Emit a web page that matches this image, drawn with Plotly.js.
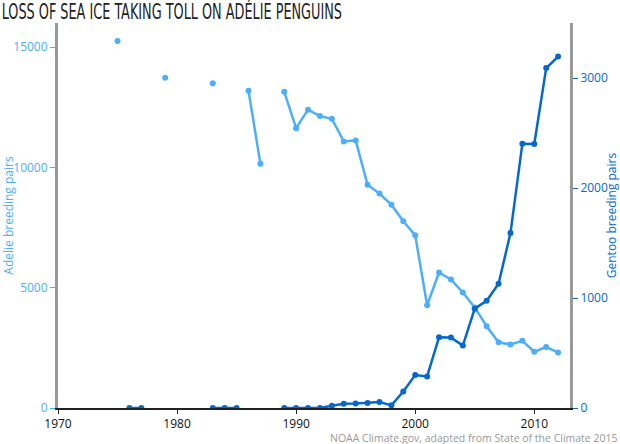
<!DOCTYPE html>
<html>
<head>
<meta charset="utf-8">
<script src="https://cdn.plot.ly/plotly-3.0.1.min.js"></script>
<style>html,body{margin:0;padding:0;background:#fff}#chart{width:620px;height:444px}
.gtitle{font-stretch:condensed;transform:scaleX(0.68);transform-origin:0 0}</style>
</head>
<body>
<div id="chart"></div>
<script>
const years = [1975,1976,1977,1978,1979,1980,1981,1982,1983,1984,1985,1986,1987,1988,1989,1990,1991,1992,1993,1994,1995,1996,1997,1998,1999,2000,2001,2002,2003,2004,2005,2006,2007,2008,2009,2010,2011,2012];
const adelie = [15250,null,null,null,13720,null,null,null,13500,null,null,13180,10150,null,13140,11630,12400,12130,12020,11080,11120,9280,8910,8450,7760,7180,4270,5630,5340,4800,4180,3400,2730,2640,2790,2340,2530,2310];
const gentoo = [null,0,0,null,null,null,null,null,0,0,0,null,null,null,0,0,0,0,20,39,40,45,55,24,150,300,287,643,640,568,903,975,1130,1590,2403,2400,3090,3195];
const xTicks = [1970,1980,1990,2000,2010];
const adelieTicks = [0,5000,10000,15000];
const gentooTicks = [0,1000,2000,3000];

const lightBlue = '#4DAEFC';
const darkBlue = '#0568CC';

const traces = [
  {x: years, y: adelie, name: 'Adelie', mode: 'lines+markers', connectgaps: false,
   line: {color: lightBlue, width: 2.5}, marker: {color: lightBlue, size: 6}, yaxis: 'y'},
  {x: years, y: gentoo, name: 'Gentoo', mode: 'lines+markers', connectgaps: false,
   line: {color: darkBlue, width: 2.5}, marker: {color: darkBlue, size: 6}, yaxis: 'y2'}
];

const tickFont = "'Open Sans', 'DejaVu Sans', sans-serif";
const layout = {
  width: 620, height: 444,
  margin: {l: 58, r: 50, t: 23, b: 36},
  showlegend: false,
  paper_bgcolor: '#fff', plot_bgcolor: '#fff',
  title: {text: 'LOSS OF SEA ICE TAKING TOLL ON ADÉLIE PENGUINS',
    font: {family: "'DejaVu Sans Condensed', 'Liberation Sans Narrow', sans-serif", size: 21, color: '#222'},
    x: 0.004, xanchor: 'left', y: 0.991, yanchor: 'top'},
  xaxis: {range: [1970, 2013], tickvals: xTicks, ticktext: xTicks.map(String),
    showgrid: false, zeroline: false, showline: true, linecolor: '#222', linewidth: 1.5,
    ticks: 'outside', ticklen: 4, tickcolor: '#222',
    tickfont: {family: tickFont, size: 12, color: '#111'}},
  yaxis: {range: [0, 16000], tickvals: adelieTicks, ticktext: adelieTicks.map(String), showgrid: false, zeroline: false,
    showline: true, linecolor: '#999', linewidth: 3, ticks: 'outside', ticklen: 5, tickcolor: lightBlue,
    tickfont: {family: tickFont, size: 12, color: lightBlue},
    title: {text: 'Adelie breeding pairs', font: {family: tickFont, size: 12, color: lightBlue}, standoff: 12}},
  yaxis2: {range: [0, 3500], tickvals: gentooTicks, ticktext: gentooTicks.map(String), overlaying: 'y', side: 'right', showgrid: false, zeroline: false,
    showline: true, linecolor: '#999', linewidth: 3, ticks: 'outside', ticklen: 5, tickcolor: darkBlue,
    tickfont: {family: tickFont, size: 12, color: darkBlue},
    title: {text: 'Gentoo breeding pairs', font: {family: tickFont, size: 12, color: darkBlue}, standoff: 8}},
  annotations: [{text: 'NOAA Climate.gov, adapted from State of the Climate 2015', xref: 'paper', yref: 'paper',
    x: 1.095, y: -0.055, xanchor: 'right', yanchor: 'top', showarrow: false,
    font: {family: tickFont, size: 10.5, color: '#999'}}]
};
Plotly.newPlot('chart', traces, layout, {displayModeBar: false, staticPlot: true});
</script>
</body>
</html>
